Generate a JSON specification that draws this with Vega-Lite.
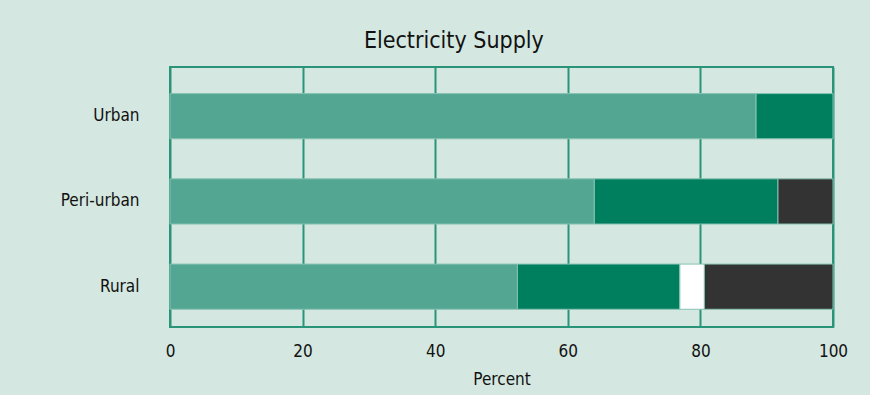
{
  "$schema": "https://vega.github.io/schema/vega-lite/v6.json",
  "width": 870,
  "height": 395,
  "autosize": {"type": "fit", "contains": "padding"},
  "padding": {"left": 60, "top": 30, "right": 22, "bottom": 8},
  "background": "#d4e7e0",
  "title": {
    "text": "Electricity Supply",
    "frame": "bounds",
    "anchor": "middle",
    "font": "DejaVu Sans Condensed",
    "fontSize": 23,
    "fontWeight": "normal",
    "color": "#111111",
    "offset": 14
  },
  "data": {
    "values": [
      {"area": "Urban", "source": "Grid", "rank": 1, "percent": 88.4},
      {"area": "Urban", "source": "Shared", "rank": 2, "percent": 11.6},
      {"area": "Peri-urban", "source": "Grid", "rank": 1, "percent": 64.0},
      {"area": "Peri-urban", "source": "Shared", "rank": 2, "percent": 27.7},
      {"area": "Peri-urban", "source": "None", "rank": 4, "percent": 8.3},
      {"area": "Rural", "source": "Grid", "rank": 1, "percent": 52.4},
      {"area": "Rural", "source": "Shared", "rank": 2, "percent": 24.5},
      {"area": "Rural", "source": "Other", "rank": 3, "percent": 3.7},
      {"area": "Rural", "source": "None", "rank": 4, "percent": 19.4}
    ]
  },
  "mark": {"type": "bar", "stroke": "#86c2b1", "strokeWidth": 1},
  "encoding": {
    "y": {
      "field": "area",
      "type": "nominal",
      "sort": ["Urban", "Peri-urban", "Rural"],
      "scale": {"paddingInner": 0.47, "paddingOuter": 0.26, "align": 0.6},
      "axis": {
        "title": null,
        "ticks": false,
        "domain": false,
        "labelPadding": 31,
        "labelFont": "DejaVu Sans Condensed",
        "labelFontSize": 17,
        "labelColor": "#111111"
      }
    },
    "x": {
      "field": "percent",
      "type": "quantitative",
      "stack": "zero",
      "scale": {"domain": [0, 100], "nice": false},
      "axis": {
        "title": "Percent",
        "values": [0, 20, 40, 60, 80, 100],
        "ticks": false,
        "domain": false,
        "grid": true,
        "gridColor": "#2a9478",
        "gridWidth": 2,
        "gridOpacity": 1,
        "labelFlush": false,
        "labelPadding": 16,
        "labelFont": "DejaVu Sans Condensed",
        "labelFontSize": 17,
        "labelColor": "#111111",
        "titleFont": "DejaVu Sans Condensed",
        "titleFontSize": 17,
        "titleFontWeight": "normal",
        "titleColor": "#111111",
        "titlePadding": 12
      }
    },
    "color": {
      "field": "source",
      "type": "nominal",
      "scale": {
        "domain": ["Grid", "Shared", "Other", "None"],
        "range": ["#52a692", "#007f5f", "#ffffff", "#333333"]
      },
      "legend": null
    },
    "order": {"field": "rank", "type": "quantitative"}
  },
  "config": {
    "view": {"stroke": "#2a9478", "strokeWidth": 2}
  }
}
